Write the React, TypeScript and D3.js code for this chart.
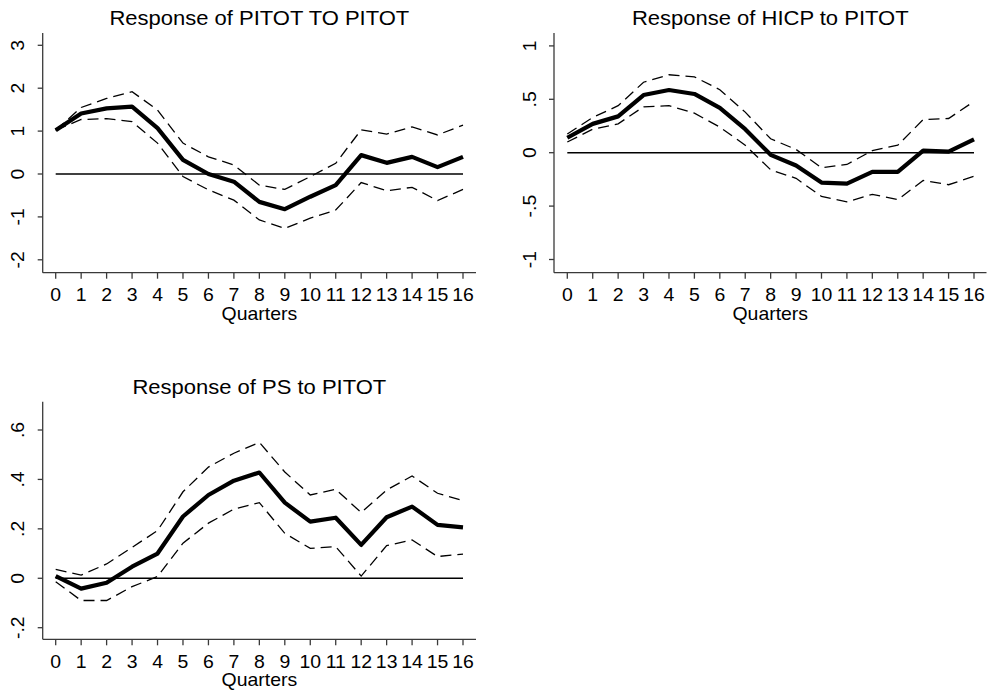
import React from "react";
import * as d3 from "d3";

const quarters = d3.range(0, 17);
const quarterLabels = quarters.map((q) => String(q));

const pitotMid = [1.02, 1.41, 1.53, 1.57, 1.07, 0.33, 0.0, -0.18, -0.65, -0.82, -0.53, -0.26, 0.44, 0.26, 0.4, 0.16, 0.4];
const pitotHi = [1.02, 1.55, 1.76, 1.92, 1.49, 0.72, 0.4, 0.21, -0.26, -0.36, -0.06, 0.25, 1.03, 0.93, 1.1, 0.91, 1.14];
const pitotLo = [1.02, 1.27, 1.29, 1.22, 0.72, -0.06, -0.37, -0.61, -1.07, -1.27, -1.03, -0.84, -0.2, -0.39, -0.31, -0.62, -0.36];

const hicpMid = [0.14, 0.27, 0.34, 0.54, 0.587, 0.55, 0.42, 0.22, -0.02, -0.12, -0.28, -0.29, -0.18, -0.18, 0.02, 0.01, 0.125];
const hicpHi = [0.175, 0.33, 0.44, 0.66, 0.73, 0.71, 0.59, 0.38, 0.13, 0.03, -0.14, -0.11, 0.02, 0.07, 0.31, 0.32, 0.48];
const hicpLo = [0.1, 0.22, 0.27, 0.43, 0.44, 0.37, 0.24, 0.07, -0.16, -0.24, -0.41, -0.46, -0.39, -0.44, -0.26, -0.3, -0.22];

const psMid = [0.009, -0.042, -0.018, 0.047, 0.1, 0.25, 0.337, 0.395, 0.428, 0.306, 0.229, 0.245, 0.135, 0.247, 0.29, 0.216, 0.206];
const psHi = [0.036, 0.013, 0.058, 0.125, 0.193, 0.35, 0.45, 0.506, 0.55, 0.43, 0.337, 0.36, 0.266, 0.357, 0.414, 0.344, 0.314];
const psLo = [-0.014, -0.09, -0.09, -0.034, 0.007, 0.142, 0.223, 0.28, 0.306, 0.182, 0.121, 0.128, 0.009, 0.132, 0.155, 0.088, 0.098];

const pitotTicks = [-2, -1, 0, 1, 2, 3];
const pitotTickLabels = ["-2", "-1", "0", "1", "2", "3"];
const hicpTicks = [-1, -0.5, 0, 0.5, 1];
const hicpTickLabels = ["-1", "-.5", "0", ".5", "1"];
const psTicks = [-0.2, 0, 0.2, 0.4, 0.6];
const psTickLabels = ["-.2", "0", ".2", ".4", ".6"];

const titles = ["Response of PITOT TO PITOT", "Response of HICP to PITOT", "Response of PS to PITOT"];
const xTitle = "Quarters";

const FONT = "'Liberation Sans', Arial, Helvetica, sans-serif";

type PanelProps = {
  title: string;
  mid: number[];
  lo: number[];
  hi: number[];
  ticks: number[];
  tickLabels: string[];
  yDomain: [number, number];
  axisLeft: number;
  axisRight: number;
  axisTop: number;
  axisBottom: number;
  xStart: number;
  xEnd: number;
  yRange: [number, number];
};

function Panel(p: PanelProps) {
  const x = d3.scaleLinear().domain([0, 16]).range([p.xStart, p.xEnd]);
  const y = d3.scaleLinear().domain(p.yDomain).range(p.yRange);
  const line = d3
    .line<number>()
    .x((_, i) => x(quarters[i]))
    .y((d) => y(d));
  const axisColor = "#3a3a3a";
  const cx = (p.axisLeft + p.axisRight) / 2;
  return (
    <g>
      <text
        transform={`translate(${cx},${p.axisTop - 8}) scale(1.1,1)`}
        textAnchor="middle"
        fontSize={20}
        fontFamily={FONT}
        fill="#000"
      >
        {p.title}
      </text>
      {/* axes */}
      <line x1={p.axisLeft} x2={p.axisLeft} y1={p.axisTop} y2={p.axisBottom} stroke={axisColor} strokeWidth={1.3} />
      <line x1={p.axisLeft} x2={p.axisRight} y1={p.axisBottom} y2={p.axisBottom} stroke={axisColor} strokeWidth={1.3} />
      {p.ticks.map((t, i) => (
        <g key={"yt" + i}>
          <line x1={p.axisLeft - 5} x2={p.axisLeft} y1={y(t)} y2={y(t)} stroke={axisColor} strokeWidth={1.3} />
          <text
            transform={`translate(${p.axisLeft - 18.5},${y(t)}) rotate(-90) scale(1.08,1)`}
            textAnchor="middle"
            fontSize={18}
            fontFamily={FONT}
            fill="#000"
          >
            {p.tickLabels[i]}
          </text>
        </g>
      ))}
      {quarters.map((q, i) => (
        <g key={"xt" + i}>
          <line x1={x(q)} x2={x(q)} y1={p.axisBottom} y2={p.axisBottom + 6} stroke={axisColor} strokeWidth={1.3} />
          <text
            transform={`translate(${x(q)},${p.axisBottom + 28.5}) scale(1.08,1)`}
            textAnchor="middle"
            fontSize={18}
            fontFamily={FONT}
            fill="#000"
          >
            {quarterLabels[i]}
          </text>
        </g>
      ))}
      <text
        transform={`translate(${cx},${p.axisBottom + 47}) scale(1.08,1)`}
        textAnchor="middle"
        fontSize={18}
        fontFamily={FONT}
        fill="#000"
      >
        {xTitle}
      </text>
      {/* zero line */}
      <line x1={x(0)} x2={x(16)} y1={y(0)} y2={y(0)} stroke="#000" strokeWidth={1.5} />
      <path d={line(p.hi) || ""} fill="none" stroke="#000" strokeWidth={1.3} strokeDasharray="11,6" />
      <path d={line(p.lo) || ""} fill="none" stroke="#000" strokeWidth={1.3} strokeDasharray="11,6" />
      <path d={line(p.mid) || ""} fill="none" stroke="#000" strokeWidth={4.2} strokeLinejoin="round" />
    </g>
  );
}

export default function App() {
  return (
    <svg
      width={990}
      height={695}
      style={{ position: "absolute", left: 0, top: 0, background: "#fff" }}
    >
      <rect x={0} y={0} width={990} height={695} fill="#fff" />
      <Panel
        title={titles[0]}
        mid={pitotMid}
        lo={pitotLo}
        hi={pitotHi}
        ticks={pitotTicks}
        tickLabels={pitotTickLabels}
        yDomain={[-2, 3]}
        yRange={[259.8, 45.3]}
        axisLeft={42.7}
        axisRight={476}
        axisTop={33}
        axisBottom={272.7}
        xStart={55.7}
        xEnd={463}
      />
      <Panel
        title={titles[1]}
        mid={hicpMid}
        lo={hicpLo}
        hi={hicpHi}
        ticks={hicpTicks}
        tickLabels={hicpTickLabels}
        yDomain={[-1, 1]}
        yRange={[259.5, 45.9]}
        axisLeft={554}
        axisRight={986.5}
        axisTop={33}
        axisBottom={272.7}
        xStart={567.3}
        xEnd={974}
      />
      <Panel
        title={titles[2]}
        mid={psMid}
        lo={psLo}
        hi={psHi}
        ticks={psTicks}
        tickLabels={psTickLabels}
        yDomain={[-0.2, 0.6]}
        yRange={[627.7, 430]}
        axisLeft={42.7}
        axisRight={476}
        axisTop={401.7}
        axisBottom={639.3}
        xStart={55.7}
        xEnd={463}
      />
    </svg>
  );
}
